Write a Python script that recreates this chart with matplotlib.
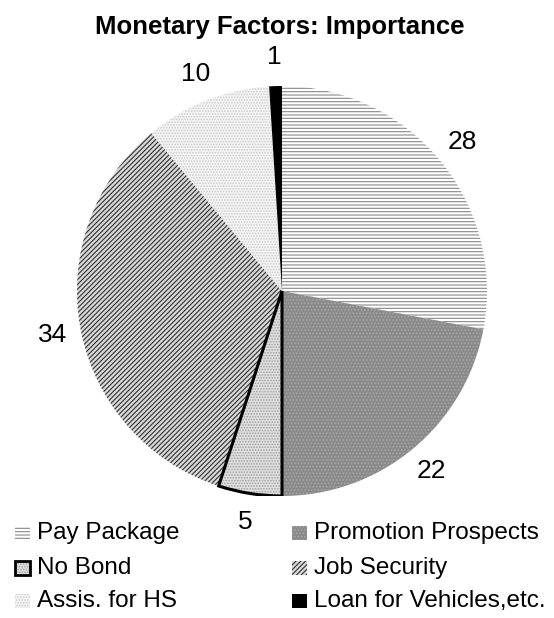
import matplotlib
matplotlib.use("Agg")
import matplotlib.pyplot as plt
from matplotlib.patches import Rectangle, Wedge

plt.rcParams['hatch.linewidth'] = 0.8

factors = ['Pay Package', 'Promotion Prospects', 'No Bond',
           'Job Security', 'Assis. for HS', 'Loan for Vehicles,etc.']
counts = [28, 22, 5, 34, 10, 1]

# fill, hatch, hatch colour per slice (grey-scale print style)
styles = [
    ('white',   '-----',   '#8a8a8a'),
    ('#8a8a8a', '.....',   '#a6a6a6'),
    ('#e0e0e0', '......',  '#a0a0a0'),
    ('#d8d8d8', '///////', '#303030'),
    ('#f4f4f4', '......',  '#cccccc'),
    ('black',   None,      'black'),
]

W, H = 554, 618
fig = plt.figure(figsize=(W / 100, H / 100), dpi=100)
cx, cy, r = 282, 291, 205
ax = fig.add_axes([(cx - r) / W, (H - cy - r) / H, 2 * r / W, 2 * r / H])

wedges, _, nums = ax.pie(counts, startangle=90, counterclock=False,
                         autopct='%.0f', pctdistance=1.14,
                         textprops=dict(fontsize=19, family=['Liberation Sans', 'DejaVu Sans']))
for w, (fc, h, hc) in zip(wedges, styles):
    w.set_facecolor(fc)
    w.set_hatch(h)
    w.set_edgecolor(hc)
    w.set_linewidth(0)

# thick black outline on the "No Bond" slice
nb = wedges[2]
ax.add_patch(Wedge(nb.center, nb.r, nb.theta1, nb.theta2, fill=False,
                   edgecolor='black', lw=2.2, joinstyle='miter'))

ax.set_xlim(-1, 1)
ax.set_ylim(-1, 1)
ax.axis('off')

fig.text(280 / W, 1 - 27 / H, 'Monetary Factors: Importance',
         ha='center', va='center', fontsize=18.5, fontweight='bold',
         family=['Liberation Sans Narrow', 'Liberation Sans', 'DejaVu Sans'])

# legend laid out by hand: two columns, three rows
col_x = [15, 292]
row_y = [533, 568, 601]
for i, (name, (fc, h, hc)) in enumerate(zip(factors, styles)):
    x = col_x[i % 2]
    y = row_y[i // 2]
    box = ((x) / W, 1 - (y + 7) / H)
    fig.patches.append(Rectangle(box, 15 / W, 14 / H,
                                 transform=fig.transFigure, facecolor=fc,
                                 hatch=h, edgecolor=hc, lw=0, figure=fig))
    if i == 2:
        fig.patches.append(Rectangle(box, 15 / W, 14 / H,
                                     transform=fig.transFigure, fill=False,
                                     edgecolor='black', lw=2, figure=fig))
    fig.text((x + 22) / W, 1 - y / H, name, ha='left', va='center',
             fontsize=17.5, family=['Liberation Sans', 'DejaVu Sans'])

fig.savefig('out.png', dpi=100)
